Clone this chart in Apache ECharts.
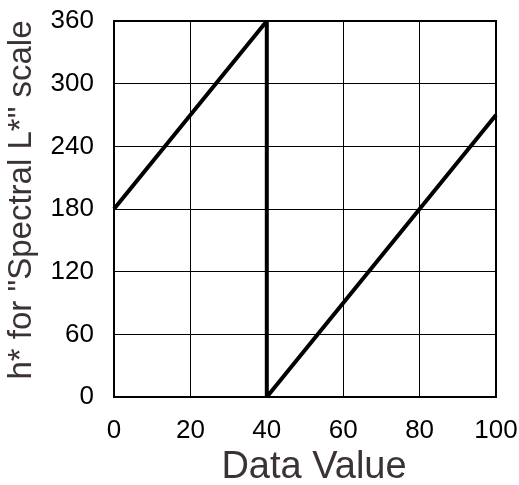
<!DOCTYPE html>
<html>
<head>
<meta charset="utf-8">
<script src="https://cdn.jsdelivr.net/npm/echarts@6/dist/echarts.min.js"></script>
<style>
  html, body { margin: 0; padding: 0; background: #fff; }
  #chart { width: 519px; height: 485px; }
</style>
</head>
<body>
<div id="chart"></div>
<script>
// hue angle vs data value, wraps at 360
const dataValues = [0, 40, 40, 100];
const hueValues = [180, 360, 0, 270];
const xTicks = [0, 20, 40, 60, 80, 100];
const yTicks = [0, 60, 120, 180, 240, 300, 360];

const chart = echarts.init(document.getElementById("chart"));
const font = "Liberation Sans, Arial, Helvetica, sans-serif";

chart.setOption({
  animation: false,
  grid: {
    left: 114, right: 23, top: 21, bottom: 88,
    containLabel: false, outerBoundsMode: "none",
    show: true, borderColor: "#000", borderWidth: 2,
  },
  xAxis: {
    type: "value",
    min: xTicks[0],
    max: xTicks[xTicks.length - 1],
    interval: 20,
    name: "Data Value",
    nameLocation: "middle",
    nameGap: 50,
    nameTextStyle: { fontFamily: font, fontSize: 38, color: "#3b3236", padding: [0, 0, 0, 18] },
    axisLine: { show: false },
    axisTick: { show: false },
    axisLabel: { fontFamily: font, fontSize: 26, color: "#000", margin: 21 },
    splitLine: { show: true, lineStyle: { color: "#000", width: 1 } },
  },
  yAxis: {
    type: "value",
    min: yTicks[0],
    max: yTicks[yTicks.length - 1],
    interval: 60,
    name: 'h* for "Spectral L*" scale',
    nameLocation: "middle",
    nameGap: 76,
    nameTextStyle: { fontFamily: font, fontSize: 33, color: "#3b3236", padding: [0, 0, 0, 18] },
    axisLine: { show: false },
    axisTick: { show: false },
    axisLabel: { fontFamily: font, fontSize: 26, color: "#000", margin: 20 },
    splitLine: { show: true, lineStyle: { color: "#000", width: 1 } },
  },
  series: [
    {
      type: "line",
      data: dataValues.map((x, i) => [x, hueValues[i]]),
      showSymbol: false,
      lineStyle: { color: "#000", width: 4 },
    },
  ],
});
</script>
</body>
</html>
